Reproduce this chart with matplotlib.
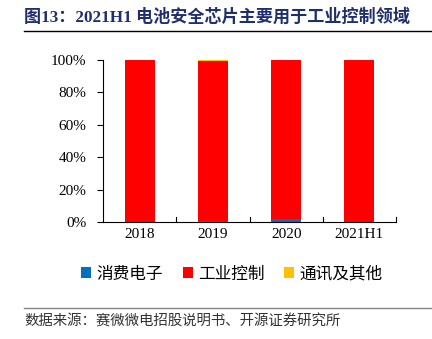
import numpy as np
import matplotlib
matplotlib.use("Agg")
import matplotlib.pyplot as plt
from matplotlib.lines import Line2D
from matplotlib.patches import Patch

# shares (%)
periods = ["2018", "2019", "2020", "2021H1"]
consumer = [0.1, 0.8, 1.6, 0.2]
industrial = [99.6, 98.4, 98.1, 99.5]
telecom_other = [0.3, 0.8, 0.3, 0.3]
series_names = ["消费电子", "工业控制", "通讯及其他"]
series_colors = ["#0070C0", "#FF0000", "#FFC000"]

plt.rcParams['font.family'] = ['Liberation Serif', 'Noto Sans CJK SC']

fig = plt.figure(figsize=(4.32, 3.39), dpi=100)
ax = fig.add_axes([103 / 432, 1 - 222 / 339, 293 / 432, 162 / 339])

x = np.arange(len(periods))
width = 0.41
bottom = np.zeros(len(periods))
for vals, col in zip([consumer, industrial, telecom_other], series_colors):
    ax.bar(x, vals, width, bottom=bottom, color=col, edgecolor="none")
    bottom += np.array(vals)

ax.set_xlim(-0.5, len(periods) - 0.5)
ax.set_ylim(0, 100)
ax.set_yticks(np.arange(0, 101, 20))
ax.set_yticklabels([f"{v}%" for v in range(0, 101, 20)], fontsize=11)
ax.set_xticks(x)
ax.set_xticklabels(periods, fontsize=11)
ax.tick_params(axis="x", length=0, pad=4)
ax.tick_params(axis="y", direction="out", length=4, width=0.8, pad=8)
for s in ["top", "right"]:
    ax.spines[s].set_visible(False)
ax.spines["left"].set_linewidth(0.8)
ax.spines["bottom"].set_linewidth(0.8)

# small inward tick marks between categories
for b in np.arange(0.5, len(periods), 1.0):
    ax.plot([b, b], [0, 3], color="black", lw=0.8, clip_on=False)

handles = [Patch(facecolor=c, edgecolor="none") for c in series_colors]
fig.legend(handles, series_names, loc="center", bbox_to_anchor=(232 / 432, 1 - 274 / 339),
           ncol=3, frameon=False, handlelength=0.6, handleheight=0.6, handletextpad=0.3,
           columnspacing=1.2, prop={"family": ["Noto Sans CJK SC"], "size": 12})

fig.text(24 / 432, 1 - 17 / 339, "图13：2021H1 电池安全芯片主要用于工业控制领域",
         fontsize=12.3, fontweight="bold", color="#1F2F6E", va="center", ha="left")
fig.add_artist(Line2D([24 / 432, 1], [1 - 31 / 339, 1 - 31 / 339], color="black", lw=1))
fig.add_artist(Line2D([24 / 432, 1], [1 - 308 / 339, 1 - 308 / 339], color="#888888", lw=1))
fig.text(24 / 432, 1 - 322 / 339, "数据来源：赛微微电招股说明书、开源证券研究所",
         fontsize=10.4, color="#333333", va="center", ha="left")

fig.savefig("out.png", dpi=100)
